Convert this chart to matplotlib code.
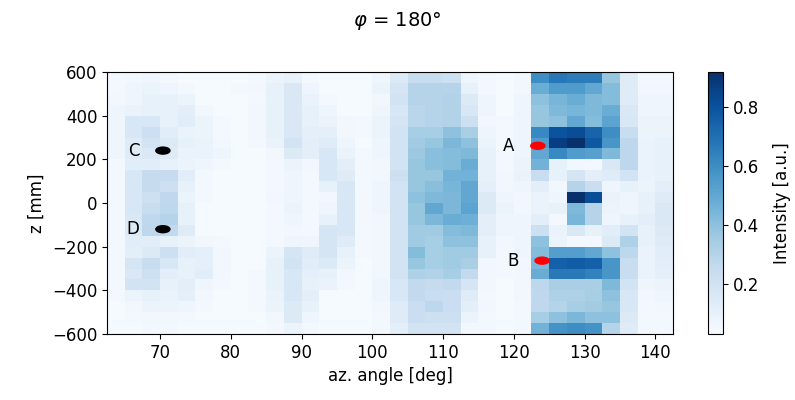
import numpy as np
import matplotlib
matplotlib.use("Agg")
import matplotlib.pyplot as plt
from matplotlib.patches import Ellipse

# Azimuthal bin edges (deg) and height bin edges (mm)
angle_edges = np.arange(62.5, 142.5 + 0.1, 2.5)
z_edges = np.arange(-600, 600 + 1, 50)

# Intensity map, rows listed from top (z = 600) to bottom (z = -600)
intensity_rows = [
    [0.05,0.06,0.07,0.05,0.04,0.04,0.04,0.04,0.05,0.08,0.10, 0.05,0.04,0.04,0.04,0.07,0.15,0.24,0.24,0.22,0.07,0.05, 0.04,0.06,0.60,0.68,0.66,0.66,0.38,0.14,0.05,0.05],
    [0.05,0.07,0.08,0.07,0.05,0.04,0.04,0.05,0.06,0.10,0.16, 0.07,0.04,0.04,0.04,0.08,0.18,0.30,0.30,0.30,0.10,0.05, 0.04,0.06,0.48,0.55,0.55,0.50,0.42,0.14,0.06,0.06],
    [0.06,0.07,0.10,0.10,0.08,0.04,0.04,0.04,0.05,0.10,0.16, 0.09,0.05,0.04,0.04,0.06,0.20,0.30,0.30,0.31,0.15,0.07, 0.04,0.07,0.40,0.45,0.48,0.43,0.42,0.14,0.07,0.07],
    [0.07,0.09,0.10,0.10,0.12,0.06,0.04,0.04,0.06,0.10,0.16, 0.10,0.07,0.04,0.04,0.07,0.17,0.29,0.30,0.31,0.17,0.07, 0.04,0.07,0.38,0.43,0.45,0.43,0.48,0.16,0.07,0.07],
    [0.07,0.17,0.17,0.10,0.13,0.08,0.05,0.04,0.06,0.10,0.16, 0.10,0.08,0.06,0.05,0.08,0.18,0.29,0.30,0.31,0.22,0.06, 0.05,0.07,0.38,0.40,0.50,0.42,0.52,0.17,0.08,0.08],
    [0.07,0.17,0.22,0.13,0.09,0.08,0.05,0.04,0.06,0.10,0.16, 0.11,0.11,0.06,0.05,0.08,0.20,0.34,0.34,0.40,0.33,0.07, 0.05,0.07,0.62,0.80,0.82,0.74,0.60,0.24,0.08,0.08],
    [0.07,0.14,0.20,0.15,0.10,0.09,0.06,0.04,0.05,0.09,0.20, 0.12,0.14,0.07,0.04,0.07,0.20,0.36,0.38,0.44,0.40,0.08, 0.05,0.07,0.55,0.87,0.92,0.78,0.57,0.28,0.09,0.10],
    [0.07,0.14,0.16,0.14,0.09,0.09,0.07,0.04,0.04,0.06,0.15, 0.12,0.17,0.09,0.05,0.07,0.20,0.37,0.41,0.42,0.43,0.10, 0.05,0.07,0.50,0.62,0.55,0.53,0.43,0.28,0.09,0.10],
    [0.05,0.13,0.13,0.10,0.08,0.07,0.05,0.04,0.04,0.05,0.08, 0.06,0.17,0.12,0.05,0.06,0.20,0.38,0.41,0.42,0.48,0.10, 0.05,0.08,0.46,0.10,0.06,0.05,0.16,0.28,0.09,0.10],
    [0.05,0.17,0.25,0.25,0.13,0.05,0.04,0.04,0.04,0.05,0.07, 0.05,0.17,0.14,0.05,0.06,0.22,0.38,0.38,0.46,0.46,0.10, 0.06,0.09,0.24,0.10,0.18,0.12,0.14,0.20,0.09,0.10],
    [0.05,0.17,0.25,0.22,0.10,0.05,0.04,0.04,0.04,0.05,0.07, 0.05,0.10,0.17,0.05,0.07,0.20,0.38,0.41,0.45,0.50,0.11, 0.06,0.07,0.12,0.06,0.30,0.23,0.07,0.10,0.08,0.12],
    [0.05,0.17,0.22,0.27,0.08,0.05,0.04,0.04,0.04,0.06,0.07, 0.05,0.06,0.17,0.05,0.07,0.20,0.40,0.43,0.44,0.50,0.15, 0.07,0.06,0.09,0.07,0.92,0.82,0.09,0.07,0.10,0.14],
    [0.05,0.17,0.24,0.28,0.10,0.04,0.04,0.04,0.04,0.05,0.08, 0.05,0.07,0.17,0.05,0.07,0.20,0.38,0.50,0.44,0.52,0.15, 0.08,0.06,0.09,0.10,0.43,0.30,0.08,0.07,0.10,0.16],
    [0.05,0.16,0.27,0.30,0.10,0.04,0.04,0.04,0.04,0.05,0.07, 0.05,0.10,0.17,0.05,0.06,0.20,0.38,0.44,0.48,0.47,0.12, 0.07,0.07,0.12,0.05,0.45,0.30,0.07,0.10,0.12,0.16],
    [0.05,0.15,0.28,0.26,0.14,0.04,0.04,0.04,0.04,0.05,0.06, 0.05,0.18,0.17,0.05,0.06,0.20,0.36,0.36,0.42,0.43,0.12, 0.07,0.07,0.22,0.09,0.16,0.10,0.13,0.20,0.10,0.15],
    [0.05,0.13,0.13,0.10,0.08,0.06,0.05,0.04,0.04,0.05,0.07, 0.07,0.18,0.14,0.05,0.06,0.20,0.36,0.34,0.40,0.40,0.10, 0.06,0.07,0.40,0.08,0.05,0.05,0.15,0.32,0.10,0.14],
    [0.05,0.12,0.15,0.22,0.13,0.11,0.06,0.04,0.04,0.08,0.18, 0.14,0.18,0.10,0.05,0.06,0.20,0.42,0.34,0.36,0.36,0.10, 0.05,0.07,0.42,0.54,0.54,0.50,0.40,0.28,0.09,0.13],
    [0.05,0.18,0.24,0.17,0.10,0.11,0.06,0.04,0.04,0.10,0.20, 0.13,0.15,0.08,0.04,0.06,0.20,0.38,0.34,0.36,0.33,0.06, 0.05,0.06,0.44,0.75,0.77,0.75,0.57,0.24,0.09,0.12],
    [0.05,0.16,0.22,0.12,0.10,0.13,0.06,0.04,0.05,0.10,0.17, 0.11,0.10,0.06,0.04,0.06,0.20,0.32,0.31,0.34,0.26,0.06, 0.05,0.06,0.48,0.67,0.67,0.64,0.57,0.24,0.09,0.11],
    [0.05,0.20,0.20,0.10,0.12,0.07,0.05,0.04,0.05,0.10,0.17, 0.10,0.09,0.05,0.04,0.07,0.17,0.26,0.25,0.26,0.18,0.06, 0.04,0.06,0.28,0.33,0.33,0.33,0.43,0.20,0.07,0.08],
    [0.05,0.08,0.10,0.09,0.11,0.06,0.04,0.04,0.05,0.09,0.17, 0.12,0.04,0.04,0.04,0.07,0.17,0.26,0.24,0.23,0.14,0.05, 0.04,0.06,0.27,0.32,0.32,0.34,0.40,0.17,0.06,0.07],
    [0.04,0.06,0.08,0.08,0.07,0.05,0.04,0.04,0.05,0.08,0.15, 0.10,0.04,0.04,0.04,0.06,0.14,0.23,0.28,0.23,0.12,0.06, 0.04,0.05,0.27,0.30,0.34,0.35,0.38,0.17,0.05,0.06],
    [0.04,0.05,0.06,0.06,0.05,0.04,0.04,0.04,0.04,0.06,0.15, 0.07,0.04,0.04,0.04,0.05,0.14,0.23,0.22,0.22,0.08,0.05, 0.04,0.05,0.34,0.40,0.44,0.40,0.40,0.15,0.05,0.05],
    [0.04,0.04,0.05,0.05,0.04,0.04,0.04,0.04,0.04,0.05,0.08, 0.05,0.04,0.04,0.04,0.05,0.12,0.20,0.20,0.20,0.05,0.05, 0.04,0.05,0.46,0.58,0.60,0.58,0.30,0.14,0.05,0.05],
]

# Marked positions: (label, angle, z, colour)
point_labels = ["A", "B", "C", "D"]
point_angles = [123.4, 124.0, 70.4, 70.4]
point_z = [262, -264, 240, -120]
point_colors = ["red", "red", "black", "black"]

intensity = np.array(intensity_rows)[::-1]  # bottom row first for pcolormesh

fig = plt.figure(figsize=(7.95, 4.0), dpi=100)
ax = fig.add_axes([0.1346, 0.165, 0.7119, 0.655])
cax = fig.add_axes([0.8906, 0.165, 0.019, 0.655])

mesh = ax.pcolormesh(angle_edges, z_edges, intensity, cmap="Blues",
                     vmin=0.03, vmax=0.92, shading="flat")
ax.set_xlim(angle_edges[0], angle_edges[-1])
ax.set_ylim(z_edges[0], z_edges[-1])
ax.set_xticks([70, 80, 90, 100, 110, 120, 130, 140])
ax.set_yticks([-600, -400, -200, 0, 200, 400, 600])
ax.set_xlabel("az. angle [deg]", fontsize=12)
ax.set_ylabel("z [mm]", fontsize=12)
ax.tick_params(labelsize=12)

for lab, a, z, c in zip(point_labels, point_angles, point_z, point_colors):
    ax.add_patch(Ellipse((a, z), 2.0, 32, color=c, zorder=3))
    ax.text(a - 3.3, z, lab, fontsize=12, ha="right", va="center")

cb = fig.colorbar(mesh, cax=cax)
cb.set_ticks([0.2, 0.4, 0.6, 0.8])
cb.ax.tick_params(labelsize=12)
cb.set_label("Intensity [a.u.]", fontsize=12, labelpad=10)

fig.suptitle(r"$\varphi$ = 180°", fontsize=14, y=0.975)

fig.savefig("out.png", dpi=100)
